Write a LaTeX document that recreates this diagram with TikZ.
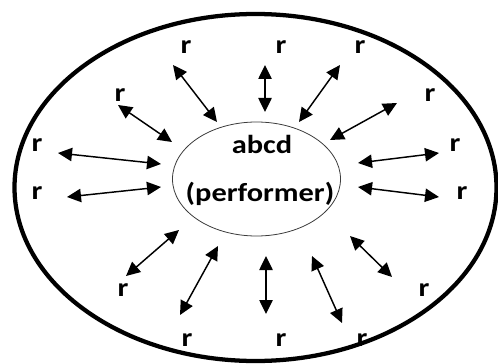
\documentclass[tikz,border=0pt]{standalone}
\usepackage{fontspec}
\setmainfont{Carlito}
\usetikzlibrary{arrows.meta}

\tikzset{
  rlabel/.style={inner sep=0.75pt, font=\fontsize{19.5}{22}\selectfont\bfseries, xscale=1.17},
  link/.style={line width=1.1pt, {Triangle[length=10.5pt,width=10pt]}-{Triangle[length=10.5pt,width=10pt]}},
}

\begin{document}
\begin{tikzpicture}[x=0.75pt,y=-0.75pt]
\useasboundingbox (0,0) rectangle (498,363);

%Shape: Outer Ellipse
\draw [line width=3.2pt] (255.5,187.5) ellipse (241 and 173.5);
%Shape: Performer Ellipse
\draw [color={rgb, 255:red, 60; green, 60; blue, 60}, line width=0.6pt] (256.5,179) ellipse (84 and 57);

% Text Node
\node (abcd) [rlabel] at (262,144.5) {abcd};
% Text Node
\node (perf) [rlabel] at (260,193.5) {(performer)};

% Text Nodes (r)
\foreach \n/\px/\py in {r1/186/47, r2/281/47, r3/360/47, r4/120/95, r5/430/95,
  r6/37/145, r7/455/145, r8/37/193, r9/462/193, r10/123/290, r11/424/290,
  r12/187/340, r13/281/340, r14/362/340}
  \node (\n) [rlabel] at (\px,\py) {r};

% Double arrows
\foreach \i/\xa/\ya/\xb/\yb in {1/173/65/217/122, 2/265/65/265/112, 3/340/65/299/122,
  4/118/105/172/142, 5/397/103/330/140, 6/58/153/161/164, 7/439/153/358/163,
  8/67/197/161/187, 9/439/197/358/187, 10/179/230/126/276, 11/218/246/180/315,
  12/266/256/266/314, 13/312/256/342/323, 14/350/236/392/277}
{
  \coordinate (s\i) at (\xa,\ya);
  \coordinate (e\i) at (\xb,\yb);
  \draw [link] (s\i) -- (e\i);
}

\end{tikzpicture}
\end{document}
